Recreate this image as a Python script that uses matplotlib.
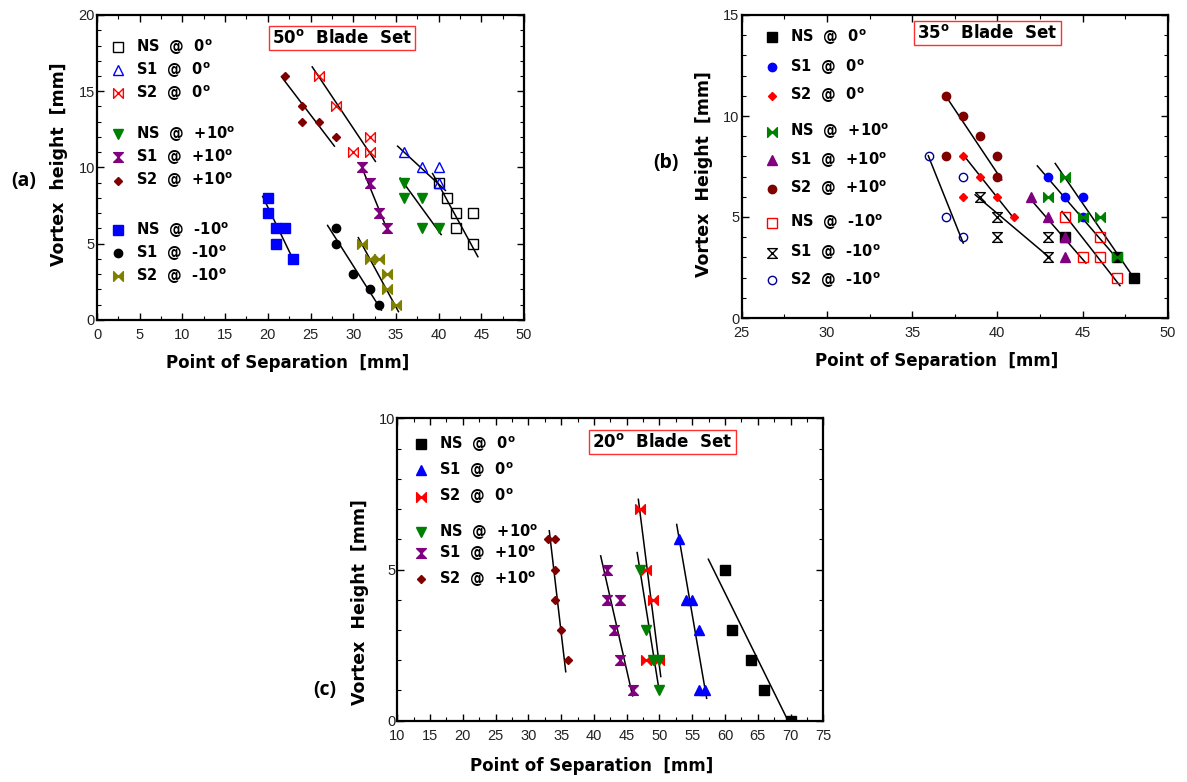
import numpy as np
import matplotlib.pyplot as plt
from matplotlib.path import Path
from matplotlib.ticker import MultipleLocator

plt.rcParams['mathtext.fontset'] = 'custom'
plt.rcParams['mathtext.rm'] = 'DejaVu Sans'
plt.rcParams['mathtext.bf'] = 'DejaVu Sans:bold'

# ---- panel (a): 50 deg blade set ----
a_ns0_x = [40, 41, 42, 44, 42, 44]; a_ns0_y = [9, 8, 7, 7, 6, 5]
a_s10_x = [36, 38, 40, 40];         a_s10_y = [11, 10, 10, 9]
a_s20_x = [26, 28, 32, 30, 32];     a_s20_y = [16, 14, 12, 11, 11]
a_nsp_x = [36, 36, 38, 38, 40];     a_nsp_y = [9, 8, 8, 6, 6]
a_s1p_x = [31, 32, 33, 34];         a_s1p_y = [10, 9, 7, 6]
a_s2p_x = [22, 24, 24, 26, 28];     a_s2p_y = [16, 14, 13, 13, 12]
a_nsm_x = [20, 20, 21, 22, 21, 23]; a_nsm_y = [8, 7, 6, 6, 5, 4]
a_s1m_x = [28, 28, 30, 32, 33];     a_s1m_y = [6, 5, 3, 2, 1]
a_s2m_x = [31, 32, 33, 34, 34, 35]; a_s2m_y = [5, 4, 4, 3, 2, 1]
# trend lines (x0, x1, y0, y1)
a_fits = [(39.3, 44.6, 9.6, 4.15), (35.2, 40.8, 11.4, 8.5), (25.2, 32.6, 16.6, 10.4),
          (35.5, 40.3, 9.3, 5.6), (30.8, 34.0, 10.3, 5.9), (21.6, 27.8, 15.95, 11.4),
          (19.4, 23.2, 8.1, 3.7), (27.0, 33.3, 6.2, 0.65), (30.6, 35.3, 5.4, 0.55)]

# ---- panel (b): 35 deg blade set ----
b_ns0_x = [44, 47, 48];             b_ns0_y = [4, 3, 2]
b_s10_x = [43, 44, 45, 45];         b_s10_y = [7, 6, 6, 5]
b_s20_x = [38, 39, 38, 40, 41];     b_s20_y = [8, 7, 6, 6, 5]
b_nsp_x = [44, 43, 45, 46, 47];     b_nsp_y = [7, 6, 5, 5, 3]
b_s1p_x = [42, 43, 44, 44];         b_s1p_y = [6, 5, 4, 3]
b_s2p_x = [37, 38, 39, 40, 40, 37]; b_s2p_y = [11, 10, 9, 8, 7, 8]
b_nsm_x = [44, 46, 45, 46, 47];     b_nsm_y = [5, 4, 3, 3, 2]
b_s1m_x = [39, 40, 40, 43, 43];     b_s1m_y = [6, 5, 4, 4, 3]
b_s2m_x = [36, 38, 37, 38];         b_s2m_y = [8, 7, 5, 4]
b_fits = [(37.0, 40.26, 10.96, 6.84), (35.95, 38.0, 8.03, 3.71), (38.0, 41.04, 8.08, 4.86),
          (38.7, 43.1, 6.1, 2.97), (41.9, 45.2, 5.93, 2.72), (43.8, 47.2, 5.27, 1.6),
          (42.35, 47.0, 7.53, 2.97), (43.4, 48.0, 7.65, 2.0)]

# ---- panel (c): 20 deg blade set ----
c_ns0_x = [60, 61, 64, 66, 70];     c_ns0_y = [5, 3, 2, 1, 0]
c_s10_x = [53, 54, 55, 56, 56, 57]; c_s10_y = [6, 4, 4, 3, 1, 1]
c_s20_x = [47, 48, 49, 48, 50];     c_s20_y = [7, 5, 4, 2, 2]
c_nsp_x = [47, 48, 49, 50, 50];     c_nsp_y = [5, 3, 2, 2, 1]
c_s1p_x = [42, 42, 44, 43, 44, 46]; c_s1p_y = [5, 4, 4, 3, 2, 1]
c_s2p_x = [33, 34, 34, 34, 35, 36]; c_s2p_y = [6, 6, 5, 4, 3, 2]
c_fits = [(57.46, 69.57, 5.34, 0.02), (52.63, 57.2, 6.49, 0.74), (46.78, 50.2, 7.32, 1.46),
          (46.6, 49.98, 5.56, 0.96), (41.03, 45.9, 5.45, 0.82), (33.19, 35.7, 6.28, 1.62)]

sup = '$^{\\mathbf{o}}$'
lab_0 = ['NS  @  0' + sup, 'S1  @  0' + sup, 'S2  @  0' + sup]
lab_p = ['NS  @  +10' + sup, 'S1  @  +10' + sup, 'S2  @  +10' + sup]
lab_m = ['NS  @  -10' + sup, 'S1  @  -10' + sup, 'S2  @  -10' + sup]

codes = [Path.MOVETO, Path.LINETO, Path.LINETO, Path.LINETO, Path.CLOSEPOLY]
bowtie = Path([(-1, 1), (-1, -1), (1, 1), (1, -1), (-1, 1)], codes)
hourglass = Path([(-1, 1), (1, 1), (-1, -1), (1, -1), (-1, 1)], codes)

W, H = 1187, 782
fig = plt.figure(figsize=(W / 100, H / 100), dpi=100)


def px_axes(l, t, r, b):
    return fig.add_axes([l / W, 1 - b / H, (r - l) / W, (b - t) / H])


def style(ax, xlim, ylim, xstep, ystep):
    ax.set_xlim(*xlim)
    ax.set_ylim(*ylim)
    xt = np.arange(xlim[0], xlim[1] + 0.1, xstep)
    yt = np.arange(ylim[0], ylim[1] + 0.1, ystep)
    ax.set_xticks(xt)
    ax.set_xticklabels(['%d' % v for v in xt], fontfamily='Liberation Sans', fontsize=10.5, color='#222222')
    ax.set_yticks(yt)
    ax.set_yticklabels(['%d' % v for v in yt], fontfamily='Liberation Sans', fontsize=10.5, color='#222222')
    ax.xaxis.set_minor_locator(MultipleLocator(xstep / 2))
    ax.yaxis.set_minor_locator(MultipleLocator(1))
    ax.tick_params(which='both', direction='in', top=True, right=True)
    ax.tick_params(which='major', length=5, width=1)
    ax.tick_params(which='minor', length=3, width=0.8)
    ax.tick_params(axis='x', pad=6)
    ax.tick_params(axis='y', pad=1.5)
    for s in ax.spines.values():
        s.set_linewidth(1.6)


def series(ax, x, y, marker, color, filled, ms):
    ax.plot(x, y, ls='none', marker=marker, ms=ms, mec=color, mew=1.0,
            mfc=color if filled else 'none')


def fits(ax, lines):
    for x0, x1, y0, y1 in lines:
        ax.plot([x0, x1], [y0, y1], color='black', lw=1.1)


def legend(ax, entries, mx, tx, rows):
    for (lab, marker, color, filled, ms), yy in zip(entries, rows):
        ax.plot([mx], [yy], transform=ax.transAxes, ls='none', marker=marker, ms=ms,
                mec=color, mew=1.0, mfc=color if filled else 'none', clip_on=False)
        ax.text(tx, yy, lab, transform=ax.transAxes, va='center', ha='left',
                fontsize=10.5, fontweight='bold')


def title_box(ax, x, y, txt):
    ax.text(x, y, txt, transform=ax.transAxes, ha='center', va='center',
            fontsize=12, fontweight='bold',
            bbox=dict(boxstyle='square,pad=0.18', fc='white', ec='#ff3030', lw=1.0))


# ---------- (a) ----------
ax = px_axes(97, 15, 524, 320)
style(ax, (0, 50), (0, 20), 5, 5)
fits(ax, a_fits)
sa = [(a_ns0_x, a_ns0_y, 's', 'black', False, 7),
      (a_s10_x, a_s10_y, '^', 'blue', False, 7),
      (a_s20_x, a_s20_y, bowtie, 'red', False, 7),
      (a_nsp_x, a_nsp_y, 'v', 'green', True, 7),
      (a_s1p_x, a_s1p_y, hourglass, 'purple', True, 7),
      (a_s2p_x, a_s2p_y, 'D', '#800000', True, 4.5),
      (a_nsm_x, a_nsm_y, 's', 'blue', True, 7),
      (a_s1m_x, a_s1m_y, 'o', 'black', True, 6),
      (a_s2m_x, a_s2m_y, bowtie, '#808000', True, 7)]
for x, y, m, c, f, ms in sa:
    series(ax, x, y, m, c, f, ms)
labs = lab_0 + lab_p + lab_m
legend(ax, [(l,) + s[2:] for l, s in zip(labs, sa)], 0.049, 0.091,
       [0.895, 0.82, 0.745, 0.61, 0.535, 0.457, 0.295, 0.22, 0.145])
title_box(ax, 0.574, 0.923, '50' + sup + '  Blade  Set')

# ---------- (b) ----------
ax = px_axes(741.7, 15, 1167.7, 318)
style(ax, (25, 50), (0, 15), 5, 5)
fits(ax, b_fits)
sb = [(b_ns0_x, b_ns0_y, 's', 'black', True, 7),
      (b_s10_x, b_s10_y, 'o', 'blue', True, 6),
      (b_s20_x, b_s20_y, 'D', 'red', True, 4.5),
      (b_nsp_x, b_nsp_y, bowtie, 'green', True, 7),
      (b_s1p_x, b_s1p_y, '^', 'purple', True, 7),
      (b_s2p_x, b_s2p_y, 'o', '#800000', True, 6),
      (b_nsm_x, b_nsm_y, 's', 'red', False, 7),
      (b_s1m_x, b_s1m_y, hourglass, 'black', False, 7),
      (b_s2m_x, b_s2m_y, 'o', '#000090', False, 6)]
for x, y, m, c, f, ms in sb:
    series(ax, x, y, m, c, f, ms)
legend(ax, [(l,) + s[2:] for l, s in zip(labs, sb)], 0.072, 0.113,
       [0.926, 0.829, 0.734, 0.615, 0.521, 0.427, 0.315, 0.216, 0.125])
title_box(ax, 0.577, 0.94, '35' + sup + '  Blade  Set')

# ---------- (c) ----------
ax = px_axes(397.3, 418.3, 823.3, 720.7)
style(ax, (10, 75), (0, 10), 5, 5)
fits(ax, c_fits)
sc = [(c_ns0_x, c_ns0_y, 's', 'black', True, 7),
      (c_s10_x, c_s10_y, '^', 'blue', True, 7),
      (c_s20_x, c_s20_y, bowtie, 'red', True, 7),
      (c_nsp_x, c_nsp_y, 'v', 'green', True, 7),
      (c_s1p_x, c_s1p_y, hourglass, 'purple', True, 7),
      (c_s2p_x, c_s2p_y, 'D', '#800000', True, 4.5)]
for x, y, m, c, f, ms in sc:
    series(ax, x, y, m, c, f, ms)
legend(ax, [(l,) + s[2:] for l, s in zip(lab_0 + lab_p, sc)], 0.055, 0.099,
       [0.914, 0.829, 0.741, 0.624, 0.554, 0.468])
title_box(ax, 0.622, 0.923, '20' + sup + '  Blade  Set')

# axis labels and panel letters (pixel positions)
def ftext(x, y, s, **kw):
    fig.text(x / W, 1 - y / H, s, ha='center', va='center', fontweight='bold', **kw)

ftext(288, 363, 'Point of Separation  [mm]', fontsize=12)
ftext(937, 361, 'Point of Separation  [mm]', fontsize=12)
ftext(592, 766, 'Point of Separation  [mm]', fontsize=12)
ftext(59, 164, 'Vortex  height  [mm]', fontsize=12.5, rotation=90)
ftext(704, 174, 'Vortex  Height  [mm]', fontsize=12.5, rotation=90)
ftext(360, 602, 'Vortex  Height  [mm]', fontsize=12.5, rotation=90)
ftext(24, 181, '(a)', fontsize=14, family='Open Sans')
ftext(666, 163, '(b)', fontsize=14, family='Open Sans')
ftext(325, 690, '(c)', fontsize=14, family='Open Sans')

fig.savefig('out.png', dpi=100)
